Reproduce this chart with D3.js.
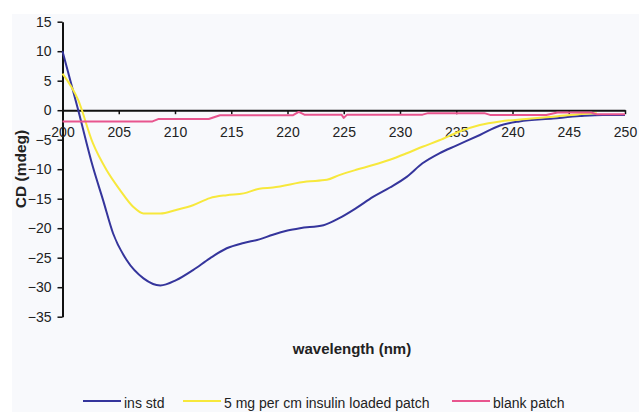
<!DOCTYPE html>
<html>
<head>
<meta charset="utf-8">
<script src="https://cdn.jsdelivr.net/npm/d3@7"></script>
<style>
  body { margin: 0; background: #fff; }
  svg { display: block; font-family: "Liberation Sans", Arial, sans-serif; }
</style>
</head>
<body>
<svg id="chart" width="639" height="412"></svg>
<script>
// wavelength (nm) / CD (mdeg) pairs
var insStdNm  = [200, 201.4, 202.7, 203.6, 204.5, 205.7, 207.2, 208.7, 210.1, 211.6, 213.1, 214.6, 216.1, 217.5, 218.7, 220, 221.1, 223.2, 224.6, 226.1, 227.6, 229.1, 230.6, 232, 233.5, 235, 237.1, 238.9, 240.6, 243.6, 246, 248, 250];
var insStdCd  = [10, 0, -9.6, -15.2, -20.9, -25.4, -28.5, -29.7, -28.8, -27.1, -25.1, -23.4, -22.5, -21.9, -21.1, -20.4, -20, -19.5, -18.3, -16.6, -14.7, -13.1, -11.3, -9, -7.3, -6, -4.2, -2.6, -1.9, -1.4, -1, -0.8, -0.8];

var patchNm   = [200, 201.4, 202.7, 203.9, 205.1, 206.3, 207.2, 208.7, 210.1, 211.6, 213.1, 214.6, 216.1, 217.5, 218.7, 221.7, 223.5, 224.6, 226.1, 227.6, 229.1, 230.6, 232, 233.5, 235.3, 237.1, 238.9, 241.2, 243.6, 246.5, 247.5];
var patchCd   = [6.2, 1.7, -5.6, -10.1, -13.5, -16.4, -17.5, -17.5, -16.9, -16.1, -14.9, -14.4, -14.1, -13.3, -13.1, -12.1, -11.8, -11, -10.1, -9.3, -8.4, -7.3, -6.2, -5.1, -3.6, -2.5, -1.9, -1.5, -1.1, -0.6, -0.5];

var blankNm   = [200, 208, 208.5, 213, 214, 220.5, 221, 221.5, 224.8, 225, 225.3, 232, 232.5, 237.5, 238, 243, 244, 247, 247.5, 250];
var blankCd   = [-1.9, -1.9, -1.5, -1.5, -0.85, -0.85, -0.3, -0.75, -0.75, -1.3, -0.75, -0.75, -0.5, -0.5, -0.8, -0.8, -0.4, -0.4, -0.7, -0.7];

var seriesNames  = ["ins std", "5 mg per cm insulin loaded patch", "blank patch"];
var seriesColors = ["#35359c", "#f7e83c", "#e8558e"];
var xTicks = [200, 205, 210, 215, 220, 225, 230, 235, 240, 245, 250];
var yTicks = [15, 10, 5, 0, -5, -10, -15, -20, -25, -30, -35];

var svg = d3.select("#chart");

// light chart area
svg.append("rect").attr("x", 12).attr("y", 14).attr("width", 627).attr("height", 398).attr("fill", "#f8f9fc");

var xScale = d3.scaleLinear().domain([200, 250]).range([62.5, 625]);
var yScale = d3.scaleLinear().domain([-35, 15]).range([316.7, 21.7]);

function pairs(xs, ys) { return xs.map(function (x, i) { return [x, ys[i]]; }); }
var allSeries = [pairs(insStdNm, insStdCd), pairs(patchNm, patchCd), pairs(blankNm, blankCd)];

var smooth = d3.line()
  .curve(d3.curveMonotoneX)
  .x(function (d) { return xScale(d[0]); })
  .y(function (d) { return yScale(d[1]); });
var straight = d3.line()
  .x(function (d) { return xScale(d[0]); })
  .y(function (d) { return yScale(d[1]); });

// y axis
var yAxis = svg.append("g")
  .attr("transform", "translate(" + xScale(200) + ",0)")
  .call(d3.axisLeft(yScale).tickValues(yTicks).tickSizeInner(5).tickSizeOuter(0).tickPadding(6));

// x axis sits on zero
var xAxis = svg.append("g")
  .attr("transform", "translate(0," + yScale(0) + ")")
  .call(d3.axisBottom(xScale).tickValues(xTicks).tickSizeInner(4).tickSizeOuter(0).tickPadding(13));

[yAxis, xAxis].forEach(function (ax) {
  ax.select(".domain").attr("stroke", "#111").attr("stroke-width", 2);
  ax.selectAll(".tick line").attr("stroke", "#111").attr("stroke-width", 1.5);
  ax.selectAll(".tick text").attr("fill", "#222").style("font-size", "14px");
});

// series: blue first, then yellow, pink on top
svg.selectAll("path.series")
  .data(allSeries)
  .enter().append("path")
  .attr("class", "series")
  .attr("d", function (d, i) { return i < 2 ? smooth(d) : straight(d); })
  .attr("fill", "none")
  .attr("stroke", function (d, i) { return seriesColors[i]; })
  .attr("stroke-width", 2)
  .attr("stroke-linejoin", "round");

// axis titles
svg.append("text")
  .attr("transform", "translate(20,169) rotate(-90)")
  .attr("text-anchor", "middle")
  .attr("dominant-baseline", "central")
  .attr("fill", "#222")
  .style("font-size", "15.5px").style("font-weight", "bold")
  .text("CD (mdeg)");

svg.append("text")
  .attr("x", 352).attr("y", 354)
  .attr("text-anchor", "middle")
  .attr("fill", "#222")
  .style("font-size", "15px").style("font-weight", "bold")
  .text("wavelength (nm)");

// legend
var legendX = [83, 183, 452];
var legend = svg.selectAll("g.legend")
  .data(seriesNames)
  .enter().append("g")
  .attr("class", "legend")
  .attr("transform", function (d, i) { return "translate(" + legendX[i] + ",401)"; });

legend.append("line")
  .attr("x1", 0).attr("x2", 38)
  .attr("stroke", function (d, i) { return seriesColors[i]; })
  .attr("stroke-width", 2);

legend.append("text")
  .attr("x", 41).attr("y", 7)
  .attr("fill", "#222")
  .style("font-size", "14px")
  .text(function (d) { return d; });
</script>
</body>
</html>
